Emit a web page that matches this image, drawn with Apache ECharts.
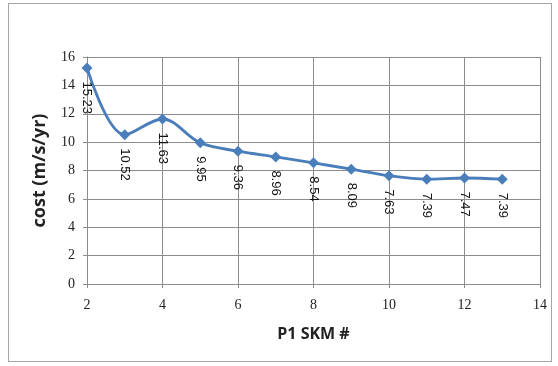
<!DOCTYPE html>
<html>
<head>
<meta charset="utf-8">
<script src="https://cdn.jsdelivr.net/npm/echarts@6/dist/echarts.min.js"></script>
<style>
  html, body { margin: 0; padding: 0; background: #fff; }
  #frame { position: absolute; left: 8px; top: 3px; width: 544px; height: 359px; border: 1px solid #a6a6a6; box-sizing: border-box; }
  #chart { width: 558px; height: 366px; position: absolute; left: 0; top: 0; }
</style>
</head>
<body>
<div id="frame"></div>
<div id="chart"></div>
<script>
// P1 SKM count vs. cost
const skmCounts = [2, 3, 4, 5, 6, 7, 8, 9, 10, 11, 12, 13];
const costValues = [15.23, 10.52, 11.63, 9.95, 9.36, 8.96, 8.54, 8.09, 7.63, 7.39, 7.47, 7.39];
const xAxisName = 'P1 SKM #';
const yAxisName = 'cost (m/s/yr)';

const points = skmCounts.map((x, i) => [x, costValues[i]]);

const chart = echarts.init(document.getElementById('chart'), null, { renderer: 'canvas' });
const gridColor = '#8c8c8c';
const tickFont = { fontFamily: 'Liberation Serif', fontSize: 14, color: '#222' };

chart.setOption({
  backgroundColor: 'transparent',
  animation: false,
  grid: { left: 87, right: 18, top: 57, bottom: 82 },
  xAxis: {
    type: 'value',
    min: 2, max: 14, interval: 2,
    name: xAxisName,
    nameLocation: 'middle',
    nameGap: 42,
    nameTextStyle: { fontFamily: 'Open Sans', fontWeight: 'bold', fontSize: 16, color: '#222' },
    axisLine: { show: true, lineStyle: { color: gridColor, width: 1 } },
    axisTick: { show: true, inside: false, length: 4, lineStyle: { color: gridColor } },
    splitLine: { show: true, lineStyle: { color: gridColor, width: 1 } },
    axisLabel: Object.assign({ margin: 14 }, tickFont)
  },
  yAxis: {
    type: 'value',
    min: 0, max: 16, interval: 2,
    name: yAxisName,
    nameLocation: 'middle',
    nameGap: 38,
    nameTextStyle: { fontFamily: 'Open Sans', fontWeight: 'bold', fontSize: 18, color: '#222' },
    axisLine: { show: true, lineStyle: { color: gridColor, width: 1 } },
    axisTick: { show: true, inside: false, length: 4, lineStyle: { color: gridColor } },
    splitLine: { show: true, lineStyle: { color: gridColor, width: 1 } },
    axisLabel: Object.assign({ margin: 12 }, tickFont)
  },
  series: [{
    type: 'line',
    data: points,
    smooth: 0.35,
    symbol: 'diamond',
    symbolSize: 11,
    lineStyle: { color: '#4a7ebb', width: 2.8 },
    itemStyle: { color: '#4a7ebb' },
    label: {
      show: true,
      position: 'bottom',
      distance: 8,
      rotate: -90,
      align: 'left',
      verticalAlign: 'middle',
      fontFamily: 'Liberation Sans',
      fontSize: 13,
      color: '#111',
      formatter: p => p.value[1].toFixed(2)
    }
  }]
});
</script>
</body>
</html>
